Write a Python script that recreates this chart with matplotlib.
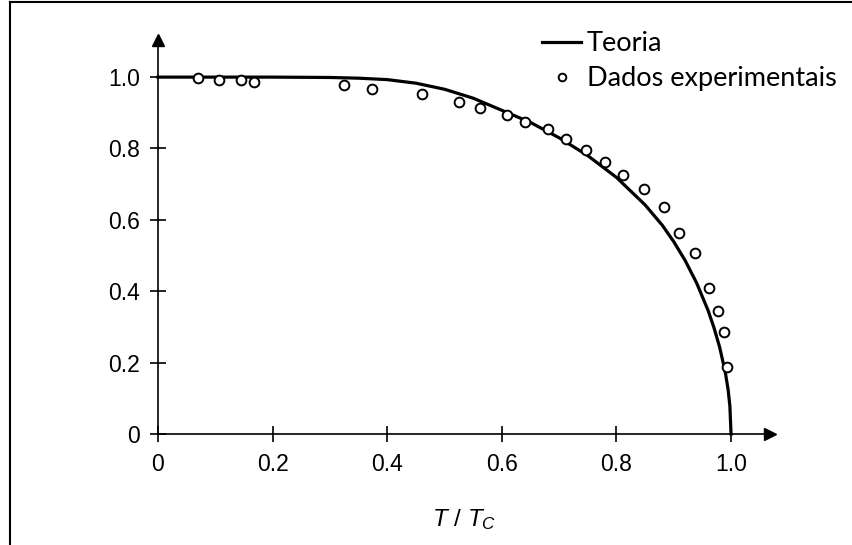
import matplotlib
matplotlib.use("Agg")
import matplotlib.pyplot as plt
from matplotlib.lines import Line2D

# Theory curve
t_theory = [0.0, 0.1, 0.2, 0.3, 0.35, 0.4, 0.45, 0.5, 0.55, 0.6, 0.65, 0.7, 0.75,
            0.8, 0.85, 0.88, 0.9, 0.92, 0.94, 0.96, 0.97, 0.98, 0.99, 0.995, 0.998, 1.0]
gap_theory = [1.0, 1.0, 1.0, 0.999, 0.997, 0.993, 0.983, 0.966, 0.941, 0.907, 0.873,
              0.830, 0.780, 0.719, 0.642, 0.585, 0.539, 0.486, 0.423, 0.346, 0.299,
              0.244, 0.173, 0.123, 0.078, 0.0]

# Experimental points
t_exp = [0.070, 0.106, 0.145, 0.168, 0.325, 0.373, 0.461, 0.525, 0.562, 0.609,
         0.640, 0.681, 0.712, 0.747, 0.780, 0.812, 0.848, 0.883, 0.909, 0.937,
         0.962, 0.977, 0.988, 0.993]
gap_exp = [0.997, 0.992, 0.992, 0.986, 0.978, 0.966, 0.952, 0.930, 0.913, 0.894,
           0.874, 0.854, 0.826, 0.796, 0.762, 0.725, 0.686, 0.636, 0.563, 0.507,
           0.409, 0.345, 0.286, 0.188]

xticks = [0, 0.2, 0.4, 0.6, 0.8, 1.0]
xticklabels = ["0", "0.2", "0.4", "0.6", "0.8", "1.0"]
yticks = [0, 0.2, 0.4, 0.6, 0.8, 1.0]
yticklabels = ["0", "0.2", "0.4", "0.6", "0.8", "1.0"]

plt.rcParams["font.family"] = "Liberation Sans"
plt.rcParams["mathtext.fontset"] = "custom"
plt.rcParams["mathtext.it"] = "Liberation Sans:italic"
plt.rcParams["mathtext.rm"] = "Liberation Sans"

fig = plt.figure(figsize=(8.53, 5.45), dpi=100)
ax = fig.add_axes([158 / 853, 111 / 545, 612 / 853, 394 / 545])
ax.set_xlim(0, 1.068)
ax.set_ylim(0, 1.104)

theory, = ax.plot(t_theory, gap_theory, color="black", lw=2.3, clip_on=False)
exp, = ax.plot(t_exp, gap_exp, "o", ms=7, mfc="white", mec="black", mew=1.4,
               linestyle="none", zorder=3)

for s in ["top", "right"]:
    ax.spines[s].set_visible(False)
for s in ["left", "bottom"]:
    ax.spines[s].set_linewidth(1.2)

# arrow heads
ax.plot(1, 0, ">k", ms=9, transform=ax.transAxes, clip_on=False)
ax.plot(0, 1, "^k", ms=9, transform=ax.transAxes, clip_on=False)

ax.set_xticks(xticks)
ax.set_xticklabels(xticklabels)
ax.set_yticks(yticks)
ax.set_yticklabels(yticklabels)
ax.tick_params(direction="inout", length=12, width=1.2, labelsize=16.5)
ax.tick_params(axis="x", pad=8)
ax.tick_params(axis="y", pad=7)

ax.set_xlabel(r"$T\ /\ T_C$", fontsize=17.5, labelpad=22)

leg = ax.legend([theory, exp], ["Teoria", "Dados experimentais"],
                loc="upper left", bbox_to_anchor=(542 / 853, 1 - 31 / 545),
                bbox_transform=fig.transFigure, frameon=False,
                prop={"family": "Lato", "size": 19.5}, handlelength=1.45,
                handletextpad=0.2, labelspacing=0.38, borderaxespad=0,
                borderpad=0)
for h in leg.legend_handles:
    if isinstance(h, Line2D) and h.get_marker() == "o":
        h.set_markersize(5.5)

# frame around the picture
fig.add_artist(Line2D([10 / 853, 10 / 853], [0, 1 - 2 / 545], color="black", lw=1.5,
                      transform=fig.transFigure))
fig.add_artist(Line2D([10 / 853, 1], [1 - 2 / 545, 1 - 2 / 545], color="black", lw=1.5,
                      transform=fig.transFigure))

fig.savefig("out.png", dpi=100)
